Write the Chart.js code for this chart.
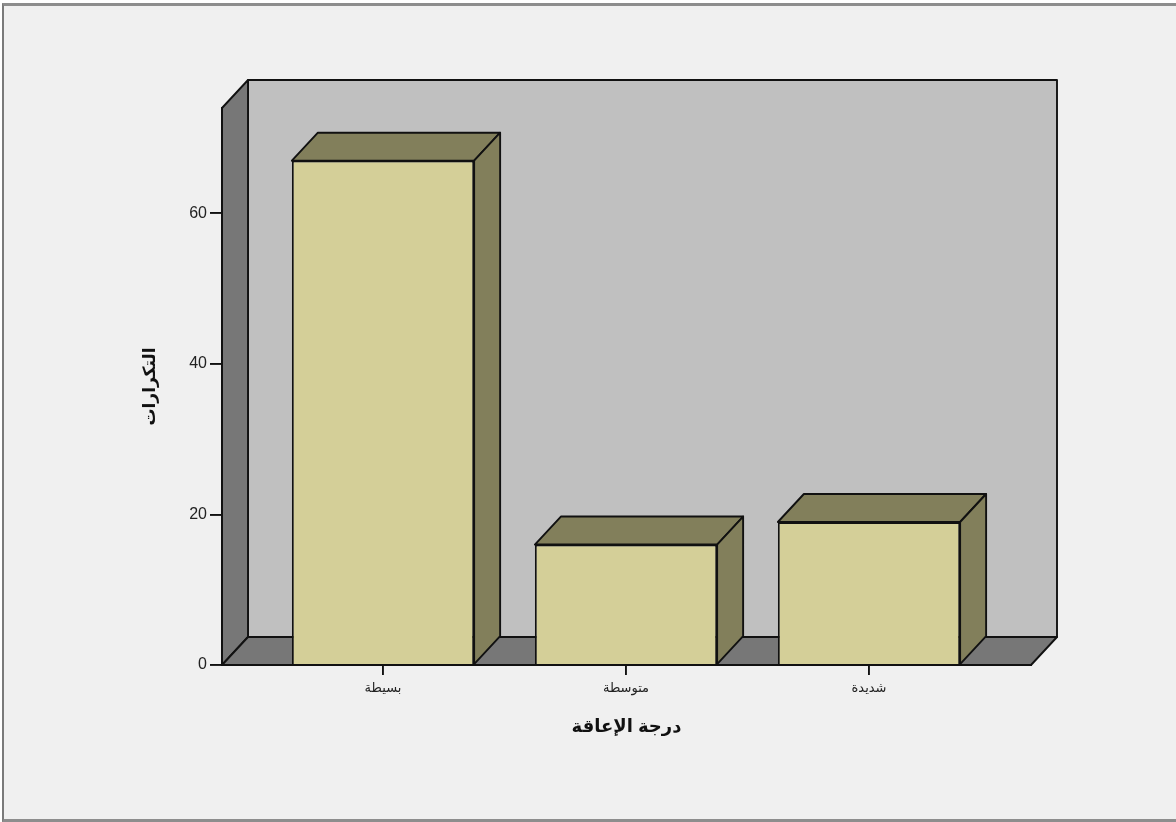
<!DOCTYPE html>
<html lang="ar">
<head>
<meta charset="utf-8">
<title>درجة الإعاقة</title>
<script src="https://cdn.jsdelivr.net/npm/chart.js@4/dist/chart.umd.min.js"></script>
<style>
  html, body { margin: 0; padding: 0; background: #fff; }
  body { width: 1176px; height: 822px; position: relative; overflow: hidden; }
  .frame {
    position: absolute; left: 2px; top: 3px; width: 1200px; height: 813px;
    background: #f0f0f0;
    border-top: 3px solid #8d8d8d; border-left: 2px solid #7a7a7a; border-bottom: 3px solid #8d8d8d;
  }
  #chart { position: absolute; left: 0; top: 0; }
</style>
</head>
<body>
<div class="frame"></div>
<canvas id="chart" width="1176" height="822"></canvas>
<script>
const categories = ["بسيطة", "متوسطة", "شديدة"];
const frequencies = [67, 16, 19];
const yTicks = [0, 20, 40, 60];

const FONT = 'Arial, "Liberation Sans", "DejaVu Sans", sans-serif';
const EDGE = 1.9;
// depth of the 3D box, in pixels
const DX = 26;
const DY = 28;

function poly(ctx, pts, fill) {
  ctx.beginPath();
  ctx.moveTo(pts[0][0], pts[0][1]);
  for (let i = 1; i < pts.length; i++) ctx.lineTo(pts[i][0], pts[i][1]);
  ctx.closePath();
  ctx.fillStyle = fill;
  ctx.fill();
  ctx.stroke();
}

// back wall, left wall and floor behind the bars
const boxBackdrop = {
  id: "boxBackdrop",
  beforeDraw(chart) {
    const { ctx, chartArea: a } = chart;
    ctx.save();
    ctx.lineWidth = EDGE;
    ctx.strokeStyle = "#111";
    ctx.lineJoin = "round";
    poly(ctx, [[a.left + DX, a.top - DY], [a.right + DX, a.top - DY], [a.right + DX, a.bottom - DY], [a.left + DX, a.bottom - DY]], "#c0c0c0");
    poly(ctx, [[a.left, a.top], [a.left + DX, a.top - DY], [a.left + DX, a.bottom - DY], [a.left, a.bottom]], "#777777");
    poly(ctx, [[a.left, a.bottom], [a.left + DX, a.bottom - DY], [a.right + DX, a.bottom - DY], [a.right, a.bottom]], "#777777");
    ctx.restore();
  }
};

// top and side faces of each bar
const barDepth = {
  id: "barDepth",
  afterDatasetsDraw(chart) {
    const { ctx } = chart;
    ctx.save();
    ctx.lineWidth = EDGE;
    ctx.strokeStyle = "#111";
    ctx.lineJoin = "round";
    chart.getDatasetMeta(0).data.forEach((bar) => {
      const { x, y, base, width } = bar.getProps(["x", "y", "base", "width"], true);
      const l = x - width / 2;
      const r = x + width / 2;
      poly(ctx, [[l, y], [l + DX, y - DY], [r + DX, y - DY], [r, y]], "#827f5b");
      poly(ctx, [[r, y], [r + DX, y - DY], [r + DX, base - DY], [r, base]], "#827f5b");
    });
    ctx.restore();
  }
};

new Chart(document.getElementById("chart").getContext("2d"), {
  type: "bar",
  data: {
    datasets: [{
      data: frequencies.map((v, i) => ({ x: i, y: v })),
      backgroundColor: "#d4cf98",
      borderColor: "#111",
      borderWidth: EDGE,
      barPercentage: 0.75,
      categoryPercentage: 1
    }]
  },
  options: {
    responsive: false,
    animation: false,
    layout: { padding: { left: 140, top: 108, right: 145, bottom: 80 } },
    plugins: { legend: { display: false }, tooltip: { enabled: false } },
    scales: {
      x: {
        type: "linear",
        offset: false,
        min: -0.6626,
        max: 2.6667,
        afterBuildTicks: (s) => { s.ticks = categories.map((_, i) => ({ value: i })); },
        afterFit: (s) => { s.height = 77; },
        grid: { offset: false, drawOnChartArea: false, drawTicks: true, tickLength: 10, color: "#111", lineWidth: EDGE },
        border: { display: true, color: "#111", width: EDGE },
        ticks: {
          callback: (v) => categories[v] ?? "",
          autoSkip: false, maxRotation: 0, padding: 6,
          color: "#222", font: { family: FONT, size: 13 }
        },
        title: {
          display: true, text: "درجة الإعاقة", color: "#111",
          font: { family: FONT, size: 18, weight: "bold" }, padding: { top: 4, bottom: 4 }
        }
      },
      y: {
        min: 0,
        max: 74,
        afterBuildTicks: (s) => { s.ticks = yTicks.map((v) => ({ value: v })); },
        afterFit: (s) => { s.width = 82; },
        grid: { drawOnChartArea: false, drawTicks: true, tickLength: 12, color: "#111", lineWidth: EDGE },
        border: { display: true, color: "#111", width: EDGE },
        ticks: { padding: 3, color: "#222", font: { family: FONT, size: 16 } },
        title: {
          display: true, text: "التكرارات", color: "#111",
          font: { family: FONT, size: 17, weight: "bold" }, padding: { top: 0, bottom: 4 }
        }
      }
    }
  },
  plugins: [boxBackdrop, barDepth]
});
</script>
</body>
</html>
